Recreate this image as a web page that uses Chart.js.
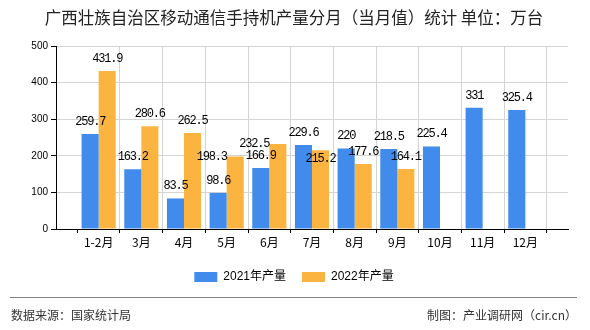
<!DOCTYPE html>
<html><head><meta charset="utf-8">
<script src="https://cdn.jsdelivr.net/npm/chart.js@4"></script>
<style>
html,body{margin:0;padding:0;background:#fff;}
#wrap{position:relative;width:590px;height:330px;overflow:hidden;}
#c{position:absolute;left:0;top:0;}
.foot{position:absolute;font-family:"Noto Sans CJK SC";font-size:12px;color:#333;line-height:14px;top:308px;white-space:nowrap;}
#rule{position:absolute;left:10px;top:297px;width:567px;height:1px;background:#808080;}
</style></head><body>
<div id="wrap"><canvas id="c" width="590" height="330"></canvas>
<div id="rule"></div>
<div class="foot" style="left:11px">数据来源：国家统计局</div>
<div class="foot" style="right:13px">制图：产业调研网（cir.cn）</div>
</div>
<script>
const titleText = '广西壮族自治区移动通信手持机产量分月（当月值）统计 单位：万台';
const categories = ['1-2月','3月','4月','5月','6月','7月','8月','9月','10月','11月','12月'];
const seriesNames = ['2021年产量','2022年产量'];
const output2021 = [259.7,163.2,83.5,98.6,166.9,229.6,220,218.5,225.4,331,325.4];
const output2022 = [431.9,280.6,262.5,198.3,232.5,215.2,177.6,164.1,null,null,null];
const yTicks = [0,100,200,300,400,500];
// label nudges (dx, dy) for the 2022 value labels that the original moved to avoid overlap
const labelShift2022 = [[0,0],[0,0],[0,0],[-23.5,12.5],[-23.5,12],[0,21.5],[0,0],[0,0],[0,0],[0,0],[0,0]];
const labelShift2021 = categories.map(() => [0,0]);

const axisLabels = [''].concat(categories, ['']);
const pad = arr => [null].concat(arr, [null]);
const shifts = [labelShift2021, labelShift2022];

const valueLabels = {
  id: 'valueLabels',
  afterDatasetsDraw(chart) {
    const ctx = chart.ctx;
    ctx.save();
    ctx.font = '12px "Liberation Mono"';
    if ('letterSpacing' in ctx) ctx.letterSpacing = '-1.2px';
    ctx.fillStyle = '#000';
    ctx.textAlign = 'center';
    ctx.textBaseline = 'middle';
    chart.data.datasets.forEach((ds, i) => {
      const meta = chart.getDatasetMeta(i);
      meta.data.forEach((el, j) => {
        const v = ds.data[j];
        if (v === null || v === undefined) return;
        const s = shifts[i][j - 1] || [0, 0];
        ctx.fillText(String(v), el.x + s[0], el.y - 12.5 + s[1]);
      });
    });
    ctx.restore();
  }
};

new Chart(document.getElementById('c'), {
  type: 'bar',
  data: {
    labels: axisLabels,
    datasets: [
      { label: seriesNames[0], data: pad(output2021), backgroundColor: '#418bec', borderWidth: 0 },
      { label: seriesNames[1], data: pad(output2022), backgroundColor: '#fcb441', borderWidth: 0 }
    ]
  },
  options: {
    responsive: false,
    animation: false,
    devicePixelRatio: 1,
    categoryPercentage: 0.8,
    barPercentage: 1.0,
    layout: { padding: { left: 20, right: 22, top: 0, bottom: 37 } },
    plugins: {
      tooltip: { enabled: false },
      title: {
        display: true, text: titleText, color: '#222',
        font: { family: '"Noto Sans CJK SC"', size: 16.5, weight: 'normal' },
        padding: { top: 8, bottom: 18.2 }
      },
      legend: {
        display: true, position: 'bottom',
        labels: {
          boxWidth: 23, boxHeight: 10, padding: 16, color: '#000',
          font: { family: '"Liberation Sans","Noto Sans CJK SC"', size: 12 }
        }
      }
    },
    scales: {
      x: {
        type: 'category',
        offset: false,
        afterFit: s => { s.height = 26; },
        grid: {
          color: c => (c.index === 1 ? 'rgba(0,0,0,0)' : '#d4d4d4'),
          tickColor: '#000', tickLength: 4, lineWidth: 1
        },
        border: { color: '#000', width: 1 },
        ticks: {
          autoSkip: false, maxRotation: 0, minRotation: 0, padding: 2, color: '#000',
          font: { family: '"Noto Sans CJK SC"', size: 12 }
        }
      },
      y: {
        min: 0, max: 500,
        afterFit: s => { s.width = 36; },
        afterBuildTicks: s => { s.ticks = yTicks.map(v => ({ value: v })); },
        grid: { color: '#d4d4d4', tickColor: '#000', tickLength: 5 },
        border: { color: '#000', width: 1 },
        ticks: {
          padding: 3, color: '#000',
          font: { family: '"Liberation Sans"', size: 10 }
        }
      }
    }
  },
  plugins: [valueLabels]
});
</script>
</body></html>
